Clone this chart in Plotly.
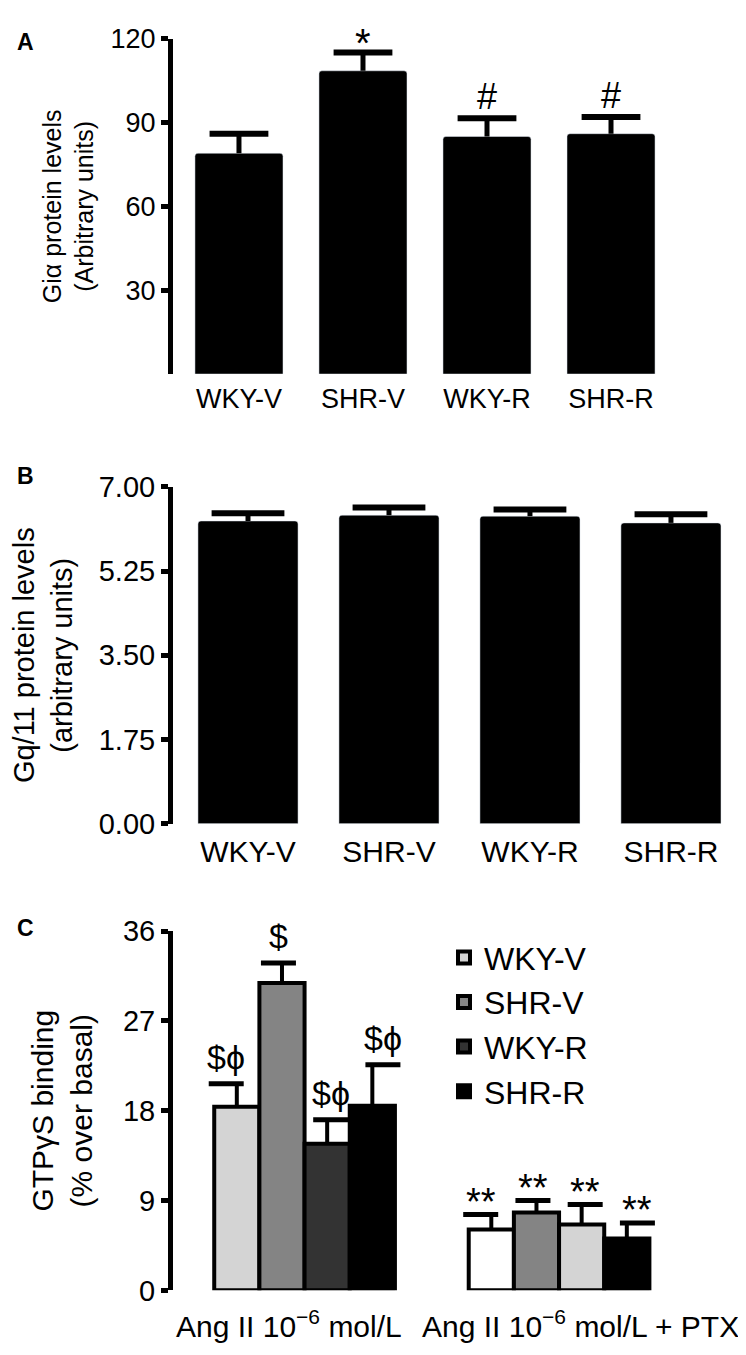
import plotly.graph_objects as go

groups = ["WKY-V", "SHR-V", "WKY-R", "SHR-R"]

# Panel A: Gi-alpha protein levels
gia_mean = [79, 108.5, 85, 86]
gia_err = [7, 6.5, 6.5, 6]
gia_marks = ["", "*", "#", "#"]

# Panel B: Gq/11 protein levels
gq_mean = [6.29, 6.41, 6.39, 6.25]
gq_err = [0.16, 0.16, 0.14, 0.18]

# Panel C: GTPgammaS binding, two conditions
conditions = ["Ang II 10<sup>−6</sup> mol/L", "Ang II 10<sup>−6</sup> mol/L + PTX"]
gtp_mean = {
    "WKY-V": [18.4, 6.1],
    "SHR-V": [30.8, 7.8],
    "WKY-R": [14.7, 6.6],
    "SHR-R": [18.5, 5.2],
}
gtp_err = {
    "WKY-V": [2.3, 1.5],
    "SHR-V": [2.0, 1.2],
    "WKY-R": [2.4, 2.0],
    "SHR-R": [4.1, 1.55],
}
gtp_marks = {
    "WKY-V": ["$ϕ", "**"],
    "SHR-V": ["$", "**"],
    "WKY-R": ["$ϕ", "**"],
    "SHR-R": ["$ϕ", "**"],
}
gtp_colors = {
    "WKY-V": ["#d4d4d4", "#ffffff"],
    "SHR-V": ["#848484", "#848484"],
    "WKY-R": ["#333333", "#d4d4d4"],
    "SHR-R": ["#000000", "#000000"],
}

FONT = "Liberation Sans, Arial, sans-serif"
W, H = 746, 1355


def py(px):
    return 1 - px / H


def tops(means, errs):
    return [m + e for m, e in zip(means, errs)]


def stems(errs):
    # vertical part only; the cross-bars are drawn by caps()
    return dict(type="data", array=errs, arrayminus=[0] * len(errs), symmetric=False,
                color="black", thickness=5, width=0)


def caps(x, y, xa, ya, size, lw):
    return go.Scatter(x=x, y=y, xaxis=xa, yaxis=ya, mode="markers", showlegend=False,
                      hoverinfo="skip",
                      marker=dict(symbol="line-ew", size=size, color="black",
                                  line=dict(color="black", width=lw)))


fig = go.Figure()

# A
fig.add_trace(go.Bar(
    x=groups, y=gia_mean, xaxis="x", yaxis="y",
    marker=dict(color="black", cornerradius=3),
    error_y=stems(gia_err), showlegend=False,
))
fig.add_trace(caps(groups, tops(gia_mean, gia_err), "x", "y", 42, 6))

# B
fig.add_trace(go.Bar(
    x=groups, y=gq_mean, xaxis="x2", yaxis="y2",
    marker=dict(color="black", cornerradius=3),
    error_y=stems(gq_err), showlegend=False,
))
fig.add_trace(caps(groups, tops(gq_mean, gq_err), "x2", "y2", 52, 6))

# C
bargap_c = 0.179
bw = (1 - bargap_c) / 4
for j, g in enumerate(groups):
    fig.add_trace(go.Bar(
        x=[0, 1], y=gtp_mean[g], name=g, xaxis="x3", yaxis="y3",
        marker=dict(color=gtp_colors[g], line=dict(color="black", width=4)),
        error_y=dict(stems(gtp_err[g]), thickness=4),
        legendgroup=g,
    ))
for j, g in enumerate(groups):
    fig.add_trace(caps([k + (j - 1.5) * bw for k in range(2)], tops(gtp_mean[g], gtp_err[g]),
                       "x3", "y3", 25, 5))

annotations = []
for i, m in enumerate(gia_marks):
    if m:
        annotations.append(dict(x=i, y=gia_mean[i] + gia_err[i], xref="x", yref="y",
                                text=m, showarrow=False, yanchor="bottom",
                                yshift=-14 if m == "*" else -1,
                                font=dict(size=40 if m == "*" else 36, family=FONT, color="black")))

for j, g in enumerate(groups):
    for k in range(2):
        m = gtp_marks[g][k]
        annotations.append(dict(
            x=k + (j - 1.5) * bw, y=gtp_mean[g][k] + gtp_err[g][k], xref="x3", yref="y3",
            text=m, showarrow=False, yanchor="bottom",
            yshift=6 if k == 0 else -10,
            font=dict(size=34 if k == 0 else 38, family=FONT, color="black")))

annotations.append(dict(x=396 / W, y=py(1331), xref="paper", yref="paper", text=conditions[0],
                        showarrow=False, xanchor="right", yanchor="middle",
                        font=dict(size=30, family=FONT, color="black")))
annotations.append(dict(x=412 / W, y=py(1331), xref="paper", yref="paper", text=conditions[1],
                        showarrow=False, xanchor="left", yanchor="middle",
                        font=dict(size=30, family=FONT, color="black")))

for lab, ypx in [("A", 18), ("B", 463), ("C", 926)]:
    annotations.append(dict(x=7 / W, y=py(ypx), xref="paper", yref="paper", text=f"<b>{lab}</b>",
                            showarrow=False, xanchor="left", yanchor="middle",
                            font=dict(size=23, family=FONT, color="black")))

yax = dict(showline=True, linewidth=5, linecolor="black", ticks="outside", ticklen=7,
           tickwidth=5, tickcolor="black", showgrid=False, zeroline=False)
xax = dict(showline=False, ticks="", showgrid=False, zeroline=False, domain=[165 / W, 1])

fig.update_layout(
    width=W, height=H,
    margin=dict(l=0, r=0, t=0, b=0),
    paper_bgcolor="white", plot_bgcolor="white",
    font=dict(family=FONT, color="black"),
    bargap=0.29,
    barmode="group",
    xaxis=dict(xax, range=[-0.532, 4.153], tickfont=dict(size=27), ticklabelstandoff=6),
    yaxis=dict(yax, domain=[py(358.5), py(15)], range=[0, 120], tickvals=[30, 60, 90, 120],
               tickfont=dict(size=27),
               title=dict(text="Giα protein levels<br>(Arbitrary units)", font=dict(size=25), standoff=11)),
    xaxis2=dict(xax, range=[-0.532, 3.589], tickfont=dict(size=30), ticklabelstandoff=7, anchor="y2"),
    yaxis2=dict(yax, domain=[py(819), py(474)], range=[0, 7], tickvals=[0, 1.75, 3.5, 5.25, 7],
                tickformat=".2f", tickfont=dict(size=29), anchor="x2",
                title=dict(text="Gq/11 protein levels<br>(arbitrary units)", font=dict(size=29), standoff=28)),
    xaxis3=dict(xax, range=[-0.517, 1.766], showticklabels=False, anchor="y3"),
    yaxis3=dict(yax, domain=[py(1297), py(929)], range=[0, 36], tickvals=[0, 9, 18, 27, 36],
                tickfont=dict(size=29), anchor="x3",
                title=dict(text="GTPγS binding<br>(% over basal)", font=dict(size=30), standoff=23)),
    legend=dict(x=436 / W, y=py(928), xanchor="left", yanchor="top", font=dict(size=32),
                tracegroupgap=4, bgcolor="rgba(0,0,0,0)", traceorder="normal"),
    annotations=annotations,
)

fig.write_html("out.html")
